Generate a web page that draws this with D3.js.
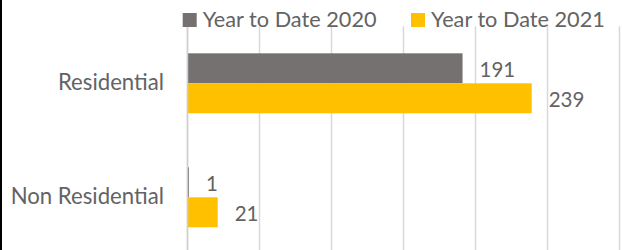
<!DOCTYPE html>
<html>
<head>
<meta charset="utf-8">
<script src="https://cdn.jsdelivr.net/npm/d3@7"></script>
<style>
  html, body { margin: 0; padding: 0; background: #fff; }
  svg { display: block; }
  text { font-family: Lato, "Open Sans", sans-serif; fill: #636363; }
</style>
</head>
<body>
<svg id="chart"></svg>
<script>
var categories = ["Residential", "Non Residential"];
var seriesNames = ["Year to Date 2020", "Year to Date 2021"];
var seriesColors = ["#767171", "#FFC000"];
var values2020 = [191, 1];
var values2021 = [239, 21];
var xTicks = [0, 50, 100, 150, 200, 250, 300];

var w = 622;
var h = 250;

var svg = d3.select("#chart")
  .attr("width", w)
  .attr("height", h);

var x = d3.scaleLinear()
  .domain([0, 300])
  .range([187.5, 619.5]);

var y = d3.scaleBand()
  .domain(categories)
  .range([26.3, 254.3])
  .paddingInner(0.474)
  .paddingOuter(0.237);

var ySub = d3.scaleBand()
  .domain(seriesNames)
  .range([0, y.bandwidth()]);

// rows of data
var rows = categories.map(function(c, i) {
  return {cat: c, vals: [values2020[i], values2021[i]]};
});

// gridlines
svg.append("g")
  .attr("class", "grid")
  .selectAll("line")
  .data(xTicks)
  .enter()
  .append("line")
  .attr("x1", function(d) { return x(d); })
  .attr("x2", function(d) { return x(d); })
  .attr("y1", 26.3)
  .attr("y2", h)
  .attr("stroke", "#d9d9d9")
  .attr("stroke-width", 1.5);

// bars
var group = svg.append("g")
  .selectAll("g")
  .data(rows)
  .enter()
  .append("g")
  .attr("transform", function(d) { return "translate(0," + y(d.cat) + ")"; });

group.selectAll("rect")
  .data(function(d) { return d.vals.map(function(v, j) { return {v: v, s: seriesNames[j], j: j}; }); })
  .enter()
  .append("rect")
  .attr("x", x(0))
  .attr("y", function(d) { return ySub(d.s); })
  .attr("width", function(d) { return x(d.v) - x(0); })
  .attr("height", ySub.bandwidth())
  .attr("fill", function(d) { return seriesColors[d.j]; });

group.selectAll("text")
  .data(function(d) { return d.vals.map(function(v, j) { return {v: v, s: seriesNames[j]}; }); })
  .enter()
  .append("text")
  .attr("x", function(d) { return x(d.v) + 17; })
  .attr("y", function(d) { return ySub(d.s) + ySub.bandwidth() / 2; })
  .attr("dy", "0.42em")
  .attr("font-size", 20.5)
  .text(function(d) { return d.v; });

// axis line at zero
svg.append("line")
  .attr("x1", x(0))
  .attr("x2", x(0))
  .attr("y1", 26.3)
  .attr("y2", h)
  .attr("stroke", "#cfcfcf")
  .attr("stroke-width", 1.5);

// category labels
var yAxis = svg.append("g")
  .attr("transform", "translate(" + (x(0) - 23.5) + ",0)")
  .call(d3.axisLeft(y).tickSize(0).tickPadding(0));
yAxis.select(".domain").remove();
yAxis.selectAll("text")
  .attr("font-size", 22.2)
  .attr("font-family", "Lato, sans-serif")
  .attr("fill", "#636363")
  .attr("dy", "0.3em");

// legend
var legendX = [182.7, 411];
var legend = svg.append("g")
  .selectAll("g")
  .data(seriesNames)
  .enter()
  .append("g")
  .attr("transform", function(d, i) { return "translate(" + legendX[i] + ",13)"; });

legend.append("rect")
  .attr("width", 14)
  .attr("height", 14)
  .attr("fill", function(d, i) { return seriesColors[i]; });

legend.append("text")
  .attr("x", 20)
  .attr("y", 14)
  .attr("font-size", 21.7)
  .text(function(d) { return d; });

// left border
svg.append("rect")
  .attr("x", 0)
  .attr("y", 0)
  .attr("width", 2)
  .attr("height", h)
  .attr("fill", "#000");
</script>
</body>
</html>
